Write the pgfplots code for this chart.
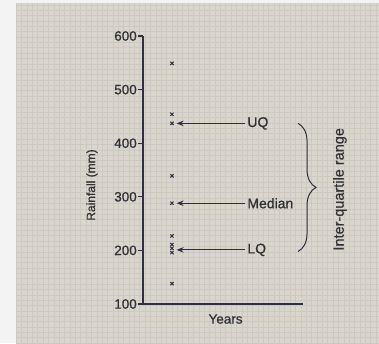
\documentclass[border=0pt]{standalone}
\usepackage{fontspec}
\setmainfont{Liberation Sans}[FakeBold=0.7]
\usepackage{pgfplots}
\pgfplotsset{compat=1.18}
\usetikzlibrary{arrows.meta,decorations.pathreplacing}
\definecolor{paper}{HTML}{D9D6CE}
\definecolor{gridc}{HTML}{CDC9C0}
\definecolor{outer}{HTML}{F3F3F3}
\definecolor{ink}{HTML}{2F2E45}
\definecolor{txt}{HTML}{303036}
\begin{document}
\begin{tikzpicture}[x=1pt,y=1pt]
\fill[outer] (0,0) rectangle (379,343);
\fill[paper] (16,0) rectangle (379,340);
\begin{scope}
\clip (16,0) rectangle (379,340);
\draw[gridc, line width=0.3pt, step=5.37pt] (16,0) grid (379,340);
\end{scope}
\begin{axis}[
  at={(143pt,39pt)}, anchor=south west,
  scale only axis, width=160pt, height=268pt,
  xmin=0, xmax=10, ymin=100, ymax=600,
  axis lines=left,
  axis line style={-, ink, line width=1.3pt},
  xtick=\empty,
  ytick={100,200,...,600},
  tick align=outside,
  major tick length=5pt,
  tick style={ink, line width=1.1pt},
  yticklabel style={inner sep=1pt, font=\fontsize{13.5}{15}\selectfont, text=txt},
  /pgf/number format/assume math mode=true,
  xlabel={Years},
  xlabel style={at={(axis description cs:0.516,-0.056)}, anchor=center, font=\fontsize{13.5}{15}\selectfont, text=txt},
  ylabel={Rainfall (mm)},
  ylabel style={at={(axis description cs:-0.319,0.444)}, anchor=center, font=\fontsize{12}{14}\selectfont, text=txt},
  clip=false,
]
\addplot[only marks, mark=x, mark size=2.3pt, ink, mark options={line width=1pt}]
  coordinates {(1.81,549) (1.81,454) (1.81,437) (1.81,339) (1.81,288) (1.81,227) (1.81,211) (1.81,204) (1.81,196) (1.81,138)};
\draw[-{Stealth[length=7pt,width=5.5pt]}, ink, line width=1.1pt] (axis cs:6.375,437) -- (axis cs:2.1,437);
\draw[-{Stealth[length=7pt,width=5.5pt]}, ink, line width=1.1pt] (axis cs:6.375,288) -- (axis cs:2.1,288);
\draw[-{Stealth[length=7pt,width=5.5pt]}, ink, line width=1.1pt] (axis cs:6.375,201) -- (axis cs:2.1,201);
\node[anchor=west, inner sep=1pt, text=txt, font=\fontsize{14}{16}\selectfont] at (axis cs:6.45,437) {UQ};
\node[anchor=west, inner sep=1pt, text=txt, font=\fontsize{14}{16}\selectfont] at (axis cs:6.45,288) {Median};
\node[anchor=west, inner sep=1pt, text=txt, font=\fontsize{14}{16}\selectfont] at (axis cs:6.45,201) {LQ};
\draw[ink, line width=1pt, decorate, decoration={brace, amplitude=18pt}] (axis cs:9.69,437) -- (axis cs:9.69,198);
\node[rotate=90, anchor=center, text=txt, font=\fontsize{14.5}{16}\selectfont] at (axis cs:12.31,314) {Inter-quartile range};
\end{axis}
\end{tikzpicture}
\end{document}
